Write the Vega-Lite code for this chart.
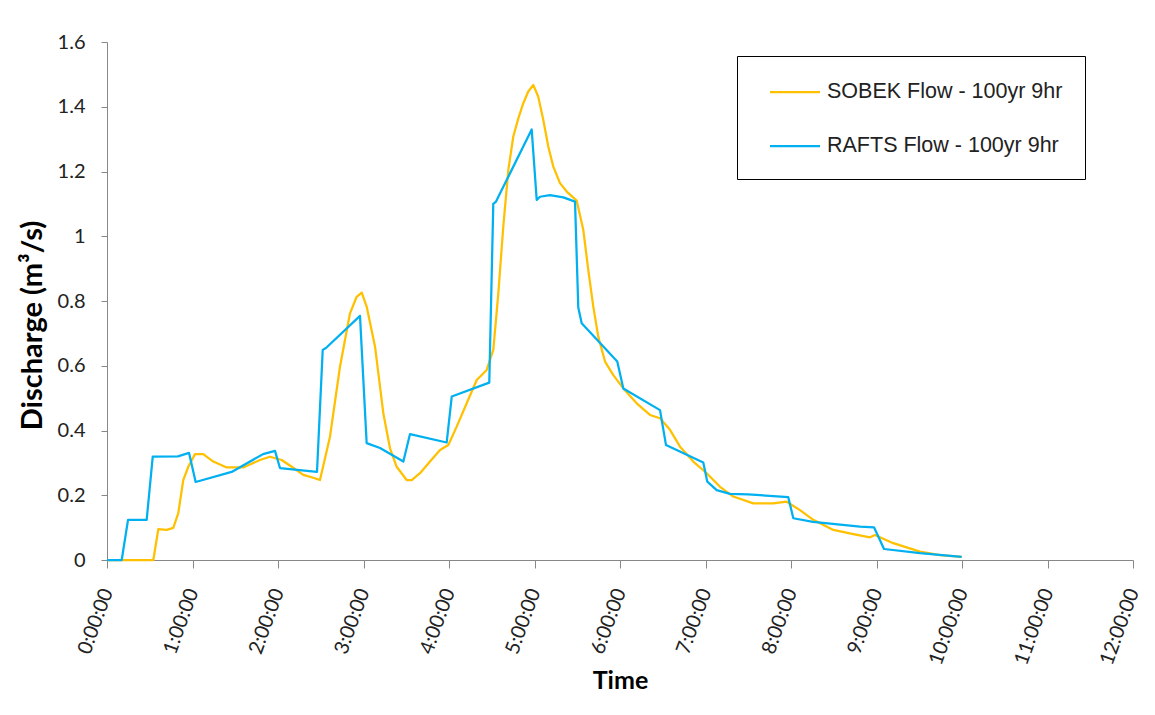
{
  "$schema": "https://vega.github.io/schema/vega-lite/v6.json",
  "autosize": "none",
  "width": 1026,
  "height": 518,
  "padding": {"left": 107, "top": 42, "right": 22, "bottom": 155},
  "background": "white",
  "config": {"view": {"stroke": null}},
  "datasets": {
    "sobek": [
      {"t": 0, "q": 0}, {"t": 0.542, "q": 0}, {"t": 0.6, "q": 0.095}, {"t": 0.698, "q": 0.093}, {"t": 0.775, "q": 0.099},
      {"t": 0.834, "q": 0.145}, {"t": 0.892, "q": 0.247}, {"t": 0.951, "q": 0.288}, {"t": 1.029, "q": 0.327}, {"t": 1.126, "q": 0.327},
      {"t": 1.243, "q": 0.304}, {"t": 1.4, "q": 0.286}, {"t": 1.594, "q": 0.286}, {"t": 1.789, "q": 0.309}, {"t": 1.906, "q": 0.319},
      {"t": 2.043, "q": 0.309}, {"t": 2.16, "q": 0.288}, {"t": 2.296, "q": 0.263}, {"t": 2.413, "q": 0.254}, {"t": 2.491, "q": 0.247},
      {"t": 2.608, "q": 0.381}, {"t": 2.725, "q": 0.597}, {"t": 2.842, "q": 0.762}, {"t": 2.92, "q": 0.813}, {"t": 2.979, "q": 0.826},
      {"t": 3.037, "q": 0.783}, {"t": 3.135, "q": 0.659}, {"t": 3.232, "q": 0.453}, {"t": 3.31, "q": 0.345}, {"t": 3.388, "q": 0.288},
      {"t": 3.505, "q": 0.247}, {"t": 3.564, "q": 0.247}, {"t": 3.661, "q": 0.268}, {"t": 3.778, "q": 0.304}, {"t": 3.895, "q": 0.34},
      {"t": 3.992, "q": 0.355}, {"t": 4.09, "q": 0.412}, {"t": 4.207, "q": 0.484}, {"t": 4.324, "q": 0.556}, {"t": 4.441, "q": 0.587},
      {"t": 4.518, "q": 0.649}, {"t": 4.577, "q": 0.824}, {"t": 4.635, "q": 1.03}, {"t": 4.694, "q": 1.205}, {"t": 4.752, "q": 1.308},
      {"t": 4.811, "q": 1.364}, {"t": 4.869, "q": 1.411}, {"t": 4.927, "q": 1.447}, {"t": 4.986, "q": 1.467}, {"t": 5.044, "q": 1.431},
      {"t": 5.103, "q": 1.359}, {"t": 5.161, "q": 1.277}, {"t": 5.22, "q": 1.215}, {"t": 5.298, "q": 1.164}, {"t": 5.377, "q": 1.138},
      {"t": 5.494, "q": 1.11}, {"t": 5.571, "q": 1.019}, {"t": 5.629, "q": 0.896}, {"t": 5.688, "q": 0.782}, {"t": 5.746, "q": 0.69},
      {"t": 5.825, "q": 0.613}, {"t": 5.922, "q": 0.571}, {"t": 6.039, "q": 0.53}, {"t": 6.195, "q": 0.484}, {"t": 6.351, "q": 0.448},
      {"t": 6.468, "q": 0.438}, {"t": 6.585, "q": 0.402}, {"t": 6.702, "q": 0.35}, {"t": 6.857, "q": 0.304}, {"t": 7.014, "q": 0.268},
      {"t": 7.17, "q": 0.226}, {"t": 7.325, "q": 0.196}, {"t": 7.559, "q": 0.175}, {"t": 7.793, "q": 0.175}, {"t": 7.95, "q": 0.18},
      {"t": 8.105, "q": 0.154}, {"t": 8.261, "q": 0.124}, {"t": 8.495, "q": 0.093}, {"t": 8.729, "q": 0.08}, {"t": 8.924, "q": 0.07},
      {"t": 8.982, "q": 0.077}, {"t": 9.196, "q": 0.052}, {"t": 9.509, "q": 0.026}, {"t": 9.743, "q": 0.015}, {"t": 9.996, "q": 0.01}
    ],
    "rafts": [
      {"t": 0, "q": 0}, {"t": 0.172, "q": 0}, {"t": 0.246, "q": 0.124}, {"t": 0.464, "q": 0.124}, {"t": 0.535, "q": 0.319},
      {"t": 0.83, "q": 0.32}, {"t": 0.959, "q": 0.331}, {"t": 1.037, "q": 0.241}, {"t": 1.458, "q": 0.272}, {"t": 1.825, "q": 0.327},
      {"t": 1.965, "q": 0.337}, {"t": 2.023, "q": 0.284}, {"t": 2.456, "q": 0.272}, {"t": 2.523, "q": 0.649}, {"t": 2.561, "q": 0.655},
      {"t": 2.959, "q": 0.754}, {"t": 3.037, "q": 0.361}, {"t": 3.193, "q": 0.346}, {"t": 3.466, "q": 0.304}, {"t": 3.544, "q": 0.389},
      {"t": 3.973, "q": 0.363}, {"t": 4.032, "q": 0.505}, {"t": 4.471, "q": 0.548}, {"t": 4.518, "q": 1.1}, {"t": 4.55, "q": 1.107},
      {"t": 4.967, "q": 1.33}, {"t": 5.026, "q": 1.112}, {"t": 5.064, "q": 1.122}, {"t": 5.181, "q": 1.127}, {"t": 5.337, "q": 1.12},
      {"t": 5.474, "q": 1.107}, {"t": 5.512, "q": 0.78}, {"t": 5.552, "q": 0.731}, {"t": 5.968, "q": 0.613}, {"t": 6.039, "q": 0.53},
      {"t": 6.468, "q": 0.463}, {"t": 6.538, "q": 0.355}, {"t": 6.974, "q": 0.301}, {"t": 7.021, "q": 0.242}, {"t": 7.131, "q": 0.216},
      {"t": 7.287, "q": 0.204}, {"t": 7.497, "q": 0.203}, {"t": 7.968, "q": 0.194}, {"t": 8.027, "q": 0.129}, {"t": 8.257, "q": 0.118},
      {"t": 8.807, "q": 0.103}, {"t": 8.971, "q": 0.101}, {"t": 9.088, "q": 0.034}, {"t": 9.509, "q": 0.021}, {"t": 9.996, "q": 0.01}
    ]
  },
  "layer": [
    {
      "data": {"name": "sobek"},
      "transform": [{"calculate": "'SOBEK Flow - 100yr 9hr'", "as": "series"}],
      "mark": {"type": "line", "strokeWidth": 2.25, "strokeJoin": "round"},
      "encoding": {
        "x": {"field": "t", "type": "quantitative"},
        "y": {"field": "q", "type": "quantitative"},
        "color": {"field": "series", "type": "nominal"}
      }
    },
    {
      "data": {"name": "rafts"},
      "transform": [{"calculate": "'RAFTS Flow - 100yr 9hr'", "as": "series"}],
      "mark": {"type": "line", "strokeWidth": 2.25, "strokeJoin": "round"},
      "encoding": {
        "x": {
          "field": "t", "type": "quantitative",
          "scale": {"domain": [0, 12], "nice": false, "zero": true},
          "axis": {
            "title": "Time",
            "values": [0,1,2,3,4,5,6,7,8,9,10,11,12],
            "labelExpr": "datum.value + ':00:00'",
            "labelAngle": -70,
            "labelAlign": "right",
            "labelBaseline": "middle",
            "labelFont": "Lato",
            "labelFontSize": 20,
            "labelColor": "#222222",
            "labelPadding": 21,
            "labelOverlap": false,
            "labelFlush": false,
            "domainColor": "#888888",
            "tickColor": "#888888",
            "tickSize": 8,
            "grid": false,
            "titleFont": "Lato",
            "titleFontSize": 25,
            "titleFontWeight": "bold",
            "titleColor": "#000000",
            "titleBaseline": "alphabetic",
            "titleY": 128
          }
        },
        "y": {
          "field": "q", "type": "quantitative",
          "scale": {"domain": [0, 1.6], "nice": false},
          "axis": {
            "title": "Discharge (m³/s)",
            "values": [0, 0.2, 0.4, 0.6, 0.8, 1, 1.2, 1.4, 1.6],
            "format": "~g",
            "labelFont": "Lato",
            "labelFontSize": 20,
            "labelColor": "#222222",
            "labelPadding": 16,
            "domainColor": "#888888",
            "tickColor": "#888888",
            "tickSize": 6,
            "grid": false,
            "titleFont": "Lato",
            "titleFontSize": 29,
            "titleFontWeight": "bold",
            "titleColor": "#000000",
            "titleBaseline": "alphabetic",
            "titleX": -66,
            "titleY": 283
          }
        },
        "color": {
          "field": "series", "type": "nominal",
          "scale": {
            "domain": ["SOBEK Flow - 100yr 9hr", "RAFTS Flow - 100yr 9hr"],
            "range": ["#FFC000", "#00B0F0"]
          },
          "legend": {
            "title": null,
            "orient": "none",
            "legendX": 630,
            "legendY": 14,
            "symbolType": "M-2,0H2",
            "symbolSize": 625,
            "symbolStrokeWidth": 2.25,
            "symbolOffset": 22,
            "labelFont": "Liberation Sans",
            "labelFontSize": 21.5,
            "labelColor": "#222222",
            "labelOffset": 18,
            "rowPadding": 29,
            "padding": 22,
            "strokeColor": "#000000",
            "fillColor": "white",
            "labelLimit": 500
          }
        }
      }
    }
  ]
}
